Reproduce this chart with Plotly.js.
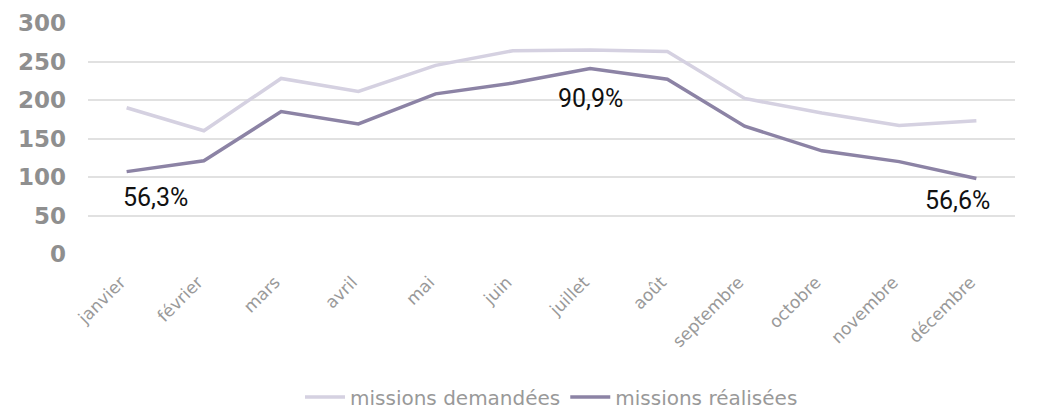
<!DOCTYPE html>
<html><head><meta charset="utf-8">
<script src="https://cdn.plot.ly/plotly-3.0.1.min.js"></script>
<style>html,body{margin:0;padding:0;background:#fff}#chart{width:1047px;height:411px}</style>
</head><body><div id="chart"></div>
<script>
const months = ["janvier","février","mars","avril","mai","juin","juillet","août","septembre","octobre","novembre","décembre"];
const demandees = [190,160,228,211,245,264,265,263,202,183,167,173];
const realisees = [107,121,185,169,208,222,241,227,166,134,120,98];
const labelMonths = ["janvier","juillet","décembre"];
const labelTexts = ["56,3%","90,9%","56,6%"];
const labelValues = [73,202,70];
const labelAnchors = ["left","center","right"];
const labelShifts = [-6,0,16];

const traces = [
  {x: months, y: demandees, type:'scatter', mode:'lines', name:'missions demandées',
   line:{color:'#d5d1e1', width:3.5}},
  {x: months, y: realisees, type:'scatter', mode:'lines', name:'missions réalisées',
   line:{color:'#8c83a5', width:3.5}}
];
const annotations = labelMonths.map((m,i)=>({
  x: m, y: labelValues[i], xref:'x', yref:'y', text: labelTexts[i], showarrow:false,
  xanchor: labelAnchors[i], xshift: labelShifts[i],
  font:{family:'Roboto, sans-serif', size:25, color:'#111'}
}));
const layout = {
  width:1047, height:411,
  margin:{l:88, r:32, t:23, b:157, autoexpand:false},
  paper_bgcolor:'#fff', plot_bgcolor:'#fff',
  showlegend:true,
  legend:{orientation:'h', x:0.5, xanchor:'center', yref:'container', y:0.034, yanchor:'middle',
    font:{family:'DejaVu Sans, sans-serif', size:20, color:'#999'}, itemwidth:40, tracegroupgap:0},
  xaxis:{type:'category', range:[-0.5,11.5], tickangle:-45, showgrid:false, zeroline:false, showline:false, automargin:false,
    tickfont:{family:'DejaVu Sans, sans-serif', size:17, color:'#999'}, ticks:'', ticklen:0, ticklabelstandoff:14, ticklabelshift:-6},
  yaxis:{range:[0,300], tickvals:[0,50,100,150,200,250,300], showgrid:true, gridcolor:'#e1e1e1', gridwidth:2,
    zeroline:false, showline:false, ticks:'', ticklabelstandoff:21, automargin:false,
    tickfont:{family:'DejaVu Sans, sans-serif', size:23, color:'#8f8f8f', weight:'bold'}},
  annotations: annotations
};
Plotly.newPlot('chart', traces, layout, {displayModeBar:false, staticPlot:true});
</script></body></html>
